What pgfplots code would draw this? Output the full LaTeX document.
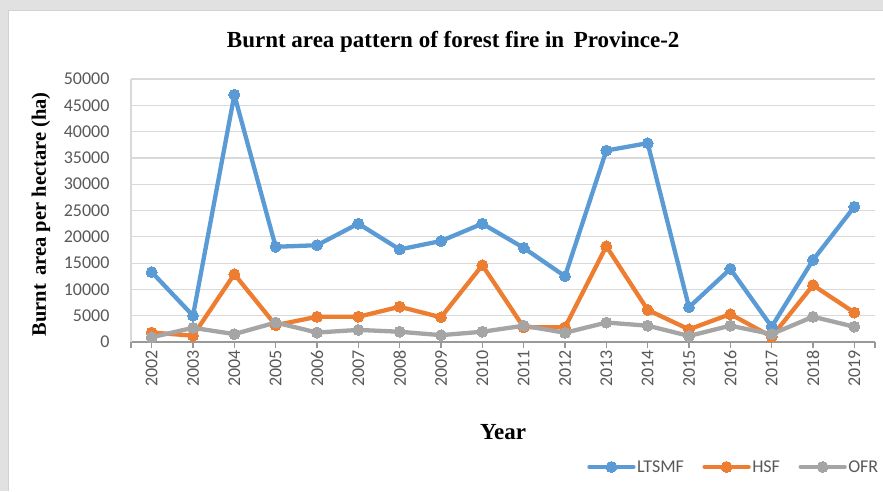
\documentclass[border=0pt]{standalone}
\usepackage{fontspec}
\setmainfont{Liberation Serif}
\newfontfamily\carlito{Carlito}
\usepackage{pgfplots}
\usepackage{pgfplotstable}
\pgfplotsset{compat=1.18}

\definecolor{ltsmf}{HTML}{5B9BD5}
\definecolor{hsf}{HTML}{ED7D31}
\definecolor{ofr}{HTML}{A5A5A5}
\definecolor{tickgray}{HTML}{595959}
\definecolor{gridgray}{HTML}{D9D9D9}
\definecolor{bandgray}{HTML}{E1E1E1}

% burnt area (ha) by year, index 0 = 2002
\pgfplotstableread{
idx ltsmf hsf ofr
0 13300 1800 900
1 5000 1200 2700
2 47000 12900 1500
3 18100 3200 3700
4 18400 4800 1800
5 22500 4800 2300
6 17600 6700 1950
7 19200 4700 1300
8 22500 14600 1950
9 17900 2800 3100
10 12500 2800 1750
11 36400 18200 3700
12 37800 6100 3100
13 6600 2400 1150
14 13900 5300 3100
15 2900 1000 1500
16 15600 10800 4800
17 25700 5600 2900
}\firetable

\begin{document}
\begin{tikzpicture}
\useasboundingbox (0,0) rectangle (883pt,491pt);
\fill[bandgray] (0,0) rectangle (883pt,491pt);
\fill[white] (8pt,0) rectangle (883pt,481pt);
\draw[gray!35, line width=0.8pt] (8pt,0) -- (8pt,481pt) -- (883pt,481pt);
\begin{axis}[
  at={(131pt,149pt)}, anchor=south west,
  scale only axis, width=744pt, height=263pt,
  xmin=-0.5, xmax=17.5, ymin=0, ymax=50000,
  axis x line*=bottom, axis y line*=left,
  x axis line style={draw=black!40, line width=1.2pt},
  y axis line style={draw=gridgray, line width=1.2pt},
  xtick={0,...,17},
  xticklabels={2002,2003,2004,2005,2006,2007,2008,2009,2010,2011,2012,2013,2014,2015,2016,2017,2018,2019},
  extra x ticks={-0.5,17.5}, extra x tick labels={},
  extra x tick style={grid=none},
  ytick distance=5000,
  scaled y ticks=false,
  /pgf/number format/.cd, 1000 sep={}, assume math mode=true, /pgfplots/.cd,
  tick align=outside, major tick length=6pt,
  xtick style={draw=black!40, line width=1.2pt},
  ytick style={draw=none},
  ymajorgrids, major grid style={draw=gridgray, line width=1.2pt},
  ticklabel style={font=\carlito\fontsize{18}{18}\selectfont, text=tickgray},
  xticklabel style={rotate=90, anchor=east, inner sep=2pt},
  yticklabel style={xshift=-12pt},
  title={Burnt area pattern of forest fire in\, Province-2},
  every axis title/.style={at={(axis description cs:0.433,1.141)}, anchor=center,
    font=\bfseries\fontsize{23}{23}\selectfont},
  xlabel={Year},
  every axis x label/.style={at={(axis description cs:0.5,-0.342)}, anchor=center,
    font=\bfseries\fontsize{23}{23}\selectfont},
  ylabel={Burnt\, area per hectare (ha)},
  every axis y label/.style={at={(axis description cs:-0.121,0.485)}, anchor=center, rotate=90,
    font=\bfseries\fontsize{20.5}{20.5}\selectfont},
  clip=false,
  legend columns=3,
  legend style={at={(axis description cs:0.609,-0.475)}, anchor=west, draw=none, fill=none,
    font=\carlito\fontsize{18}{18}\selectfont, text=tickgray,
    nodes={inner xsep=1.5pt},
    /tikz/every even column/.append style={column sep=17pt}},
  legend image code/.code={\draw[mark repeat=2, mark phase=2, #1] plot coordinates {(0pt,0pt) (22pt,0pt) (44pt,0pt)};},
  every axis plot/.append style={line width=4.3pt, line join=round, line cap=round, mark=*, mark size=5.5pt},
]
\addplot[ltsmf, mark options={fill=ltsmf, draw=ltsmf, line width=0pt}] table[x=idx, y=ltsmf] {\firetable};
\addlegendentry{LTSMF}
\addplot[hsf, mark options={fill=hsf, draw=hsf, line width=0pt}] table[x=idx, y=hsf] {\firetable};
\addlegendentry{HSF}
\addplot[ofr, mark options={fill=ofr, draw=ofr, line width=0pt}] table[x=idx, y=ofr] {\firetable};
\addlegendentry{OFR}
\end{axis}
\end{tikzpicture}
\end{document}
